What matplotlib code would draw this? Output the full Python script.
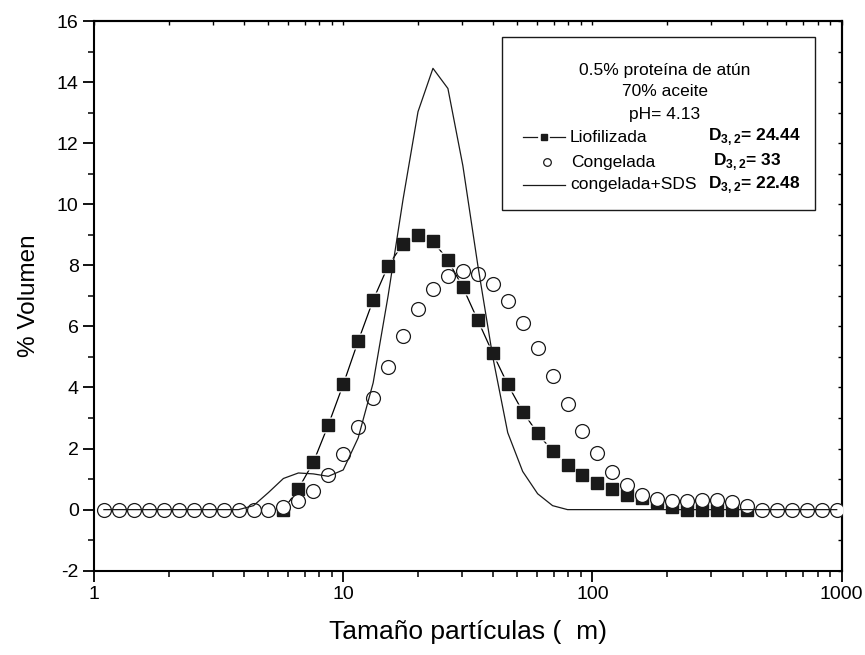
import matplotlib
matplotlib.use("Agg")
import matplotlib.pyplot as plt
from matplotlib.lines import Line2D
from matplotlib.patches import Rectangle

plt.rcParams['font.family'] = ['Liberation Sans', 'DejaVu Sans']
plt.rcParams['mathtext.fontset'] = 'custom'
plt.rcParams['mathtext.rm'] = 'Liberation Sans'
plt.rcParams['mathtext.bf'] = 'Liberation Sans:bold'
plt.rcParams['axes.unicode_minus'] = False

# ---- data ----
sizes = [1.096, 1.259, 1.445, 1.660, 1.905, 2.188, 2.512, 2.884, 3.311, 3.802,
         4.365, 5.012, 5.754, 6.607, 7.586, 8.710, 10.000, 11.482, 13.183, 15.136,
         17.378, 19.953, 22.909, 26.303, 30.200, 34.674, 39.811, 45.709, 52.481, 60.256,
         69.183, 79.433, 91.201, 104.713, 120.226, 138.038, 158.489, 181.970, 208.930, 239.883,
         275.423, 316.228, 363.078, 416.869, 478.630, 549.541, 630.957, 724.436, 831.764, 954.993]

liof_x = sizes[12:44]
liof_y = [0.0, 0.68, 1.55, 2.77, 4.10, 5.52, 6.86, 7.98, 8.71, 8.98,
          8.79, 8.17, 7.28, 6.20, 5.12, 4.10, 3.21, 2.50, 1.91, 1.46,
          1.13, 0.87, 0.69, 0.49, 0.38, 0.25, 0.09, 0.0, 0.0, 0.0,
          0.0, 0.0]

cong_y = [0, 0, 0, 0, 0, 0, 0, 0, 0, 0,
          0, 0, 0.09, 0.27, 0.62, 1.15, 1.83, 2.70, 3.66, 4.68,
          5.68, 6.56, 7.23, 7.65, 7.82, 7.72, 7.39, 6.83, 6.12, 5.28,
          4.37, 3.47, 2.59, 1.84, 1.22, 0.81, 0.49, 0.35, 0.27, 0.29,
          0.33, 0.31, 0.25, 0.11, 0, 0, 0, 0, 0, 0]

sds_y = [0, 0, 0, 0, 0, 0, 0, 0, 0, 0,
         0.13, 0.56, 1.02, 1.20, 1.17, 1.09, 1.30, 2.35, 4.15, 7.0,
         10.16, 13.03, 14.45, 13.79, 11.26, 8.0, 5.0, 2.52, 1.25, 0.52,
         0.13, 0, 0, 0, 0, 0, 0, 0, 0, 0,
         0, 0, 0, 0, 0, 0, 0, 0, 0, 0]

xticks = [1, 10, 100, 1000]
xticklabels = ['1', '10', '100', '1000']
yticks = [-2, 0, 2, 4, 6, 8, 10, 12, 14, 16]
yminor = [-1, 1, 3, 5, 7, 9, 11, 13, 15]

header = ['0.5% proteína de atún', '70% aceite', 'pH= 4.13']
labels = ['Liofilizada', 'Congelada', 'congelada+SDS']
dvals = ['24.44', '33', '22.48']

# ---- figure ----
W, H = 865, 655
fig = plt.figure(figsize=(W / 100, H / 100), dpi=100)
ax = fig.add_axes([94 / W, 1 - 570.7 / H, (841.7 - 94) / W, (570.7 - 21) / H])

ax.plot(liof_x, liof_y, color='black', lw=0.9, zorder=1)
ax.plot(liof_x, liof_y, ls='none', marker='s', ms=12, mfc='white', mec='none', zorder=2)
ax.plot(liof_x, liof_y, ls='none', marker='s', ms=8.6, mfc='#1a1a1a', mec='#1a1a1a', zorder=3)
ax.plot(sizes, cong_y, ls='none', marker='o', ms=10, mfc='white', mec='#1a1a1a', mew=0.9, zorder=4)
ax.plot(sizes, sds_y, color='#1a1a1a', lw=0.9, zorder=5)

ax.set_xscale('log')
ax.set_xlim(1, 1000)
ax.set_ylim(-2, 16)
ax.set_xticks(xticks)
ax.set_xticklabels(xticklabels)
ax.set_yticks(yticks)
ax.set_yticks(yminor, minor=True)
ax.tick_params(which='major', direction='out', length=8, width=1.3, labelsize=14, pad=3)
ax.tick_params(which='minor', direction='out', length=4.5, width=1.1)
for s in ax.spines.values():
    s.set_linewidth(1.5)

secx = ax.secondary_xaxis('top')
secx.set_xticks(xticks)
secx.tick_params(which='both', direction='in', length=3, width=1.0, labeltop=False)
secy = ax.secondary_yaxis('right')
secy.set_yticks(yticks)
secy.set_yticks(yminor, minor=True)
secy.tick_params(which='both', direction='in', length=3, width=1.0, labelright=False)
for sa in (secx, secy):
    for s in sa.spines.values():
        s.set_linewidth(1.5)

ax.set_xlabel('Tamaño partículas (  m)', fontsize=19, labelpad=12)
ax.set_ylabel('% Volumen', fontsize=17.5, labelpad=12)

# ---- legend box (pixel coords) ----
def fx(px):
    return px / W

def fy(py):
    return 1 - py / H

fig.patches.append(Rectangle((fx(502), fy(210)), fx(815) - fx(502), fy(37) - fy(210),
                             transform=fig.transFigure, fill=True, facecolor='white',
                             edgecolor='#1a1a1a', lw=1.0, zorder=10))

for txt, py in zip(header, [70, 92, 114]):
    fig.text(fx(664.5), fy(py), txt, ha='center', va='center', fontsize=12.5, zorder=11)

rows = [137, 162, 185]
handles = [
    Line2D([fx(523), fx(537)], [fy(rows[0])] * 2, color='#1a1a1a', lw=0.9),
    Line2D([fx(550), fx(565)], [fy(rows[0])] * 2, color='#1a1a1a', lw=0.9),
    Line2D([fx(543.5)], [fy(rows[0])], marker='s', ms=5, mfc='#1a1a1a', mec='#1a1a1a', ls='none'),
    Line2D([fx(547)], [fy(rows[1])], marker='o', ms=5.5, mfc='white', mec='#1a1a1a', mew=0.9, ls='none'),
    Line2D([fx(523), fx(565)], [fy(rows[2])] * 2, color='#1a1a1a', lw=0.9),
]
for h in handles:
    h.set_transform(fig.transFigure)
    h.set_zorder(12)
    fig.lines.append(h)

for lab, dv, py, lx, dx in zip(labels, dvals, rows, [570, 571, 570], [708, 713, 708]):
    fig.text(fx(lx), fy(py), lab, ha='left', va='center', fontsize=12.5, zorder=11)
    fig.text(fx(dx), fy(py), r'D$_{\mathbf{3,2}}$= ' + dv, ha='left', va='center',
             fontsize=12.5, fontweight='bold', zorder=11)

fig.savefig('out.png', dpi=100)
